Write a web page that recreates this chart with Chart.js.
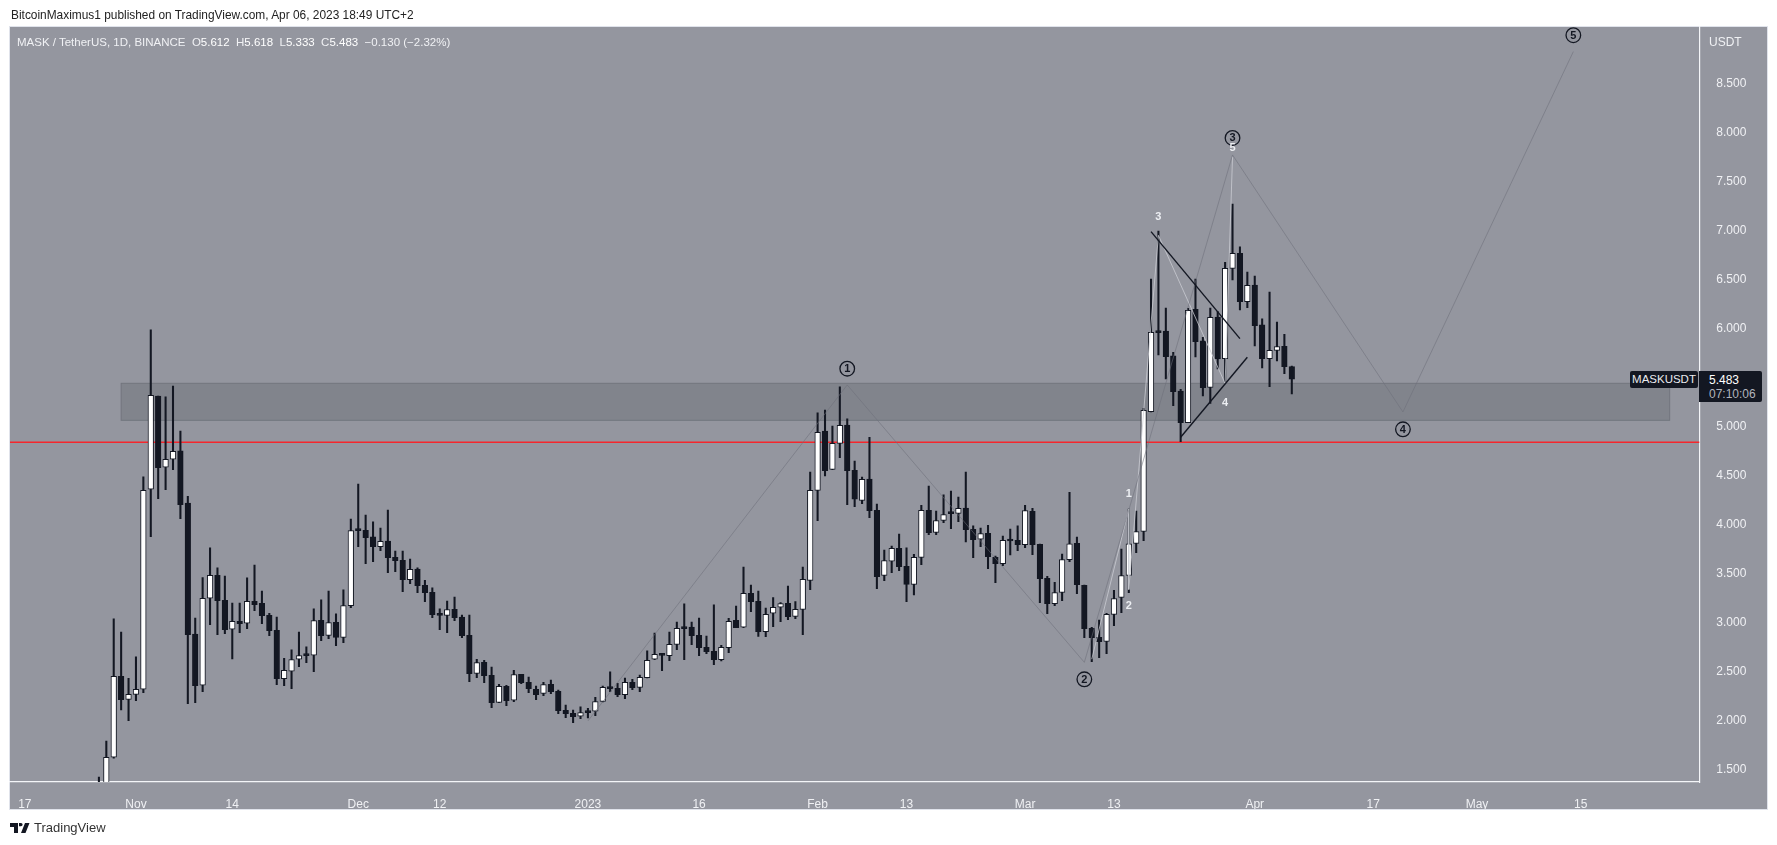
<!DOCTYPE html>
<html>
<head>
<meta charset="utf-8">
<title>MASKUSDT</title>
<script src="https://cdn.jsdelivr.net/npm/chart.js@4"></script>
<style>
  html, body { margin: 0; padding: 0; background: #fff; width: 1777px; height: 845px; overflow: hidden; }
  body { font-family: "Liberation Sans", sans-serif; font-size: 12px; position: relative; }
  div, svg { position: absolute; white-space: nowrap; }
  #panel { left: 9px; top: 26px; width: 1757px; height: 782px; background: #94969f; border: 1px solid #e0e3eb; }
  canvas { position: absolute; left: 0; top: 0; }
  #published { left: 11px; top: 8px; color: #222; font-size: 11.9px; }
  #legend { left: 17px; top: 36px; color: #f0f1f4; font-size: 11.5px; }
  #legend b { font-weight: normal; color: #fff; }
  #currency { left: 1709px; top: 35px; color: #f0f1f4; }
  #symbolTag { left: 1630px; top: 371px; width: 68px; height: 17px; line-height: 17px; background: #131722; color: #e9eaee; text-align: center; border-radius: 2px; font-size: 11.5px; }
  #priceTag { left: 1699px; top: 371px; width: 63px; height: 31px; background: #131722; border-radius: 0 2px 2px 0; }
  #priceTag span { position: absolute; left: 10px; }
  #lastPrice { top: 2px; color: #fff; }
  #countdown { top: 16px; color: #b2b5be; }
  #brand { left: 34px; top: 820px; color: #333; font-size: 13px; }
  #logo { left: 10px; top: 823px; }
</style>
</head>
<body>
<div id="panel"></div>
<canvas id="myChart" width="1777" height="845"></canvas>
<div id="published">BitcoinMaximus1 published on TradingView.com, Apr 06, 2023 18:49 UTC+2</div>
<div id="legend">MASK / TetherUS, 1D, BINANCE&nbsp; O<b>5.612</b>&nbsp; H<b>5.618</b>&nbsp; L<b>5.333</b>&nbsp; C<b>5.483</b>&nbsp; −0.130 (−2.32%)</div>
<div id="currency">USDT</div>
<div id="symbolTag">MASKUSDT</div>
<div id="priceTag"><span id="lastPrice">5.483</span><span id="countdown">07:10:06</span></div>
<svg id="logo" width="20" height="10" viewBox="0 0 20 10"><path d="M0 0h8v10H4V4H0zM9 0h2a1.6 1.6 0 1 1 0 3.2H9zM15 0h4.5l-4 10H11z" fill="#131722"/></svg>
<div id="brand">TradingView</div>

<script>
// daily candles start on this date, one entry per day
const firstCandle = '2022-10-27';

const opens = [
  1.300,1.360,1.630,2.456,2.221,2.272,2.323,4.362,5.313,4.586,
  4.668,4.753,4.222,2.887,2.364,3.251,3.485,3.230,2.935,3.016,
  2.996,3.220,3.200,3.077,2.924,2.432,2.507,2.629,2.673,2.670,
  3.026,2.873,3.006,2.853,3.176,3.954,3.944,3.876,3.777,3.835,
  3.668,3.638,3.441,3.549,3.383,3.312,3.087,3.077,3.138,3.060,
  2.873,2.486,2.598,2.465,2.190,2.353,2.211,2.476,2.394,2.323,
  2.282,2.374,2.303,2.109,2.078,2.048,2.099,2.099,2.200,2.343,
  2.333,2.268,2.394,2.343,2.442,2.629,2.679,2.666,2.781,2.948,
  2.958,2.873,2.751,2.710,2.625,2.747,3.026,2.955,3.301,3.220,
  2.911,3.098,3.159,3.199,3.067,3.138,3.434,4.351,4.956,4.565,
  4.830,5.017,4.555,4.249,4.467,4.148,3.485,3.628,3.760,3.577,
  3.393,3.668,4.147,3.923,4.045,4.130,4.117,4.171,3.954,3.852,
  3.913,3.668,3.604,3.845,3.841,3.797,4.137,3.801,3.454,3.196,
  3.311,3.644,3.811,3.383,2.944,2.853,2.812,3.087,3.260,3.485,
  3.811,3.933,5.153,5.975,5.975,5.721,5.364,5.041,6.196,5.874,
  5.401,6.118,5.693,6.614,6.767,6.275,6.444,6.037,5.693,5.778,
  5.819,5.612
];
const highs = [
  1.429,1.796,3.040,2.907,2.435,2.653,4.488,5.986,5.313,5.303,
  5.415,4.956,4.290,3.050,3.461,3.764,3.560,3.478,3.203,3.203,
  3.458,3.590,3.325,3.098,3.060,2.639,2.724,2.907,2.755,3.142,
  3.234,3.325,3.091,3.336,4.059,4.416,4.100,4.029,3.967,4.151,
  3.733,3.733,3.651,3.560,3.434,3.356,3.142,3.223,3.264,3.080,
  3.080,2.628,2.618,2.550,2.374,2.364,2.517,2.476,2.448,2.357,
  2.394,2.418,2.316,2.163,2.112,2.143,2.129,2.241,2.357,2.500,
  2.384,2.438,2.425,2.469,2.714,2.897,2.690,2.907,3.009,3.193,
  3.009,3.050,2.866,3.183,2.771,3.046,3.172,3.570,3.386,3.325,
  3.152,3.257,3.206,3.376,3.216,3.570,4.538,5.140,5.170,5.007,
  5.405,5.079,4.650,4.487,4.892,4.212,3.743,3.784,3.906,3.764,
  3.699,4.198,4.395,4.140,4.304,4.344,4.283,4.538,3.988,3.967,
  3.994,3.682,3.886,3.957,3.988,4.198,4.168,3.804,3.474,3.413,
  3.702,4.331,3.875,3.386,2.955,3.029,3.097,3.332,3.753,4.161,
  4.140,5.187,6.505,6.995,6.210,5.758,5.381,6.207,6.505,5.911,
  6.210,6.173,6.675,7.270,6.832,6.577,6.536,6.098,6.373,6.067,
  5.942,5.618
];
const lows = [
  1.250,1.300,1.620,2.112,2.004,2.208,2.289,3.879,4.267,4.358,
  4.562,4.063,2.177,2.187,2.299,2.982,2.880,2.891,2.632,2.901,
  2.941,3.125,2.992,2.870,2.371,2.360,2.330,2.554,2.595,2.503,
  2.819,2.840,2.768,2.799,3.156,3.777,3.604,3.625,3.736,3.512,
  3.522,3.318,3.400,3.308,3.216,3.054,2.931,2.900,3.023,2.849,
  2.401,2.442,2.391,2.136,2.187,2.156,2.197,2.381,2.289,2.217,
  2.258,2.279,2.075,2.034,1.983,2.024,2.031,2.055,2.195,2.299,
  2.248,2.228,2.320,2.299,2.440,2.625,2.513,2.615,2.727,2.625,
  2.778,2.666,2.686,2.574,2.612,2.696,2.950,2.950,3.115,2.863,
  2.860,2.962,3.013,3.033,3.043,2.880,3.339,4.042,4.497,4.562,
  4.684,4.205,4.185,4.215,4.073,3.349,3.431,3.512,3.532,3.216,
  3.284,3.593,3.899,3.899,4.022,3.960,4.032,3.824,3.665,3.777,
  3.553,3.410,3.583,3.692,3.736,3.767,3.695,3.206,3.094,3.175,
  3.226,3.624,3.298,2.849,2.605,2.645,2.686,2.972,3.104,3.308,
  3.716,3.838,5.150,5.731,5.486,5.214,4.847,5.040,5.711,5.313,
  5.238,5.588,5.459,6.495,6.190,6.213,5.823,5.598,5.408,5.670,
  5.541,5.333
];
const closes = [
  1.360,1.630,2.456,2.218,2.272,2.323,4.352,5.320,4.583,4.668,
  4.749,4.206,2.880,2.360,3.251,3.485,3.227,2.931,3.016,2.992,
  3.220,3.186,3.074,2.921,2.432,2.517,2.625,2.666,2.666,3.023,
  2.870,3.003,2.853,3.176,3.940,3.940,3.869,3.777,3.831,3.665,
  3.634,3.441,3.546,3.380,3.308,3.084,3.077,3.135,3.054,2.870,
  2.482,2.595,2.462,2.187,2.353,2.207,2.472,2.391,2.330,2.268,
  2.370,2.299,2.105,2.075,2.044,2.085,2.085,2.197,2.343,2.330,
  2.268,2.394,2.340,2.445,2.618,2.679,2.669,2.781,2.944,2.941,
  2.870,2.747,2.707,2.625,2.751,3.016,2.951,3.301,3.216,2.911,
  3.087,3.159,3.196,3.064,3.138,3.444,4.351,4.943,4.552,4.830,
  5.014,4.552,4.260,4.464,4.144,3.471,3.634,3.760,3.573,3.393,
  3.668,4.147,3.920,4.042,4.103,4.113,4.168,3.950,3.848,3.909,
  3.675,3.604,3.841,3.835,3.797,4.144,3.797,3.451,3.196,3.308,
  3.644,3.807,3.390,2.941,2.849,2.808,3.087,3.247,3.481,3.807,
  3.930,5.167,5.962,5.958,5.714,5.357,5.041,6.186,5.867,5.398,
  6.115,5.690,6.614,6.767,6.275,6.441,6.030,5.693,5.778,5.816,
  5.612,5.483
];

// axes
const tickDates = ['2022-10-17','2022-11-01','2022-11-14','2022-12-01','2022-12-12','2023-01-01','2023-01-16',
  '2023-02-01','2023-02-13','2023-03-01','2023-03-13','2023-04-01','2023-04-17','2023-05-01','2023-05-15'];
const tickLabels = ['17','Nov','14','Dec','12','2023','16','Feb','13','Mar','13','Apr','17','May','15'];
const priceTicks = [1.5,2,2.5,3,3.5,4,4.5,5,6,6.5,7,7.5,8,8.5];

// drawings on the chart
const supportLevel = 4.841;
const zoneDates = ['2022-10-30','2023-05-27'];
const zonePrices = [5.442,5.065];
const waveDates = ['2023-01-01','2023-02-05','2023-03-09','2023-03-29','2023-04-21','2023-05-14'];
const waveValues = [2.0,5.425,2.598,7.77,5.15,8.823];
const subWaveDates = ['2023-03-10','2023-03-15','2023-03-15','2023-03-19','2023-03-28','2023-03-29'];
const subWaveValues = [2.63,4.16,3.34,6.95,5.44,7.75];
const upperDates = ['2023-03-18','2023-03-30'];
const upperValues = [6.988,5.897];
const lowerDates = ['2023-03-22','2023-03-31'];
const lowerValues = [4.892,5.707];
const circleLabels = ['1','2','3','4','5'];
const circleDates = ['2023-02-05','2023-03-09','2023-03-29','2023-04-21','2023-05-14'];
const circleValues = [5.591,2.425,7.943,4.973,8.99];
const subLabels = ['1','2','3','4','5'];
const subDates = ['2023-03-15','2023-03-15','2023-03-19','2023-03-28','2023-03-29'];
const subValues = [4.311,3.169,7.138,5.238,7.838];

function getDates(start, end) {
  let dates = [];
  let day = Date.parse(start + 'T00:00:00Z');
  let last = Date.parse(end + 'T00:00:00Z');
  while (day <= last) {
    dates.push(new Date(day).toISOString().slice(0, 10));
    day += 86400000;
  }
  return dates;
}

const categories = getDates('2022-10-15', '2023-05-31');
const first = categories.indexOf(firstCandle);
const candleDates = categories.slice(first, first + opens.length);

function points(dates, values) {
  return dates.map((d, i) => ({ x: d, y: values[i] }));
}

function lineSet(dates, values, color, width, order) {
  return {
    type: 'line',
    data: points(dates, values),
    borderColor: color,
    borderWidth: width,
    pointRadius: 0,
    tension: 0,
    order: order
  };
}

const ink = '#131722';

// zone behind the candles
const zonePlugin = {
  id: 'zone',
  beforeDatasetsDraw(chart) {
    const { ctx, scales: { x, y } } = chart;
    const left = x.getPixelForValue(categories.indexOf(zoneDates[0]));
    const right = x.getPixelForValue(categories.indexOf(zoneDates[1]));
    const top = y.getPixelForValue(zonePrices[0]);
    const bottom = y.getPixelForValue(zonePrices[1]);
    ctx.save();
    ctx.fillStyle = '#81848c';
    ctx.strokeStyle = '#72757e';
    ctx.lineWidth = 1;
    ctx.fillRect(left, top, right - left, bottom - top);
    ctx.strokeRect(left, top, right - left, bottom - top);
    ctx.restore();
  }
};

// wave numbers
const labelPlugin = {
  id: 'waveLabels',
  afterDatasetsDraw(chart) {
    const { ctx, scales: { x, y } } = chart;
    ctx.save();
    ctx.textAlign = 'center';
    ctx.textBaseline = 'middle';
    ctx.font = 'bold 11px "Liberation Sans"';
    ctx.fillStyle = ink;
    ctx.strokeStyle = ink;
    ctx.lineWidth = 1.3;
    circleLabels.forEach((label, i) => {
      const px = x.getPixelForValue(categories.indexOf(circleDates[i]));
      const py = y.getPixelForValue(circleValues[i]);
      ctx.beginPath();
      ctx.arc(px, py, 7.3, 0, Math.PI * 2);
      ctx.stroke();
      ctx.fillText(label, px, py + 0.5);
    });
    ctx.fillStyle = '#eceef2';
    subLabels.forEach((label, i) => {
      const px = x.getPixelForValue(categories.indexOf(subDates[i]));
      const py = y.getPixelForValue(subValues[i]);
      ctx.fillText(label, px, py);
    });
    ctx.restore();
  }
};

const ctx = document.getElementById('myChart').getContext('2d');
const myChart = new Chart(ctx, {
  type: 'bar',
  data: {
    labels: categories,
    datasets: [
      lineSet([categories[0], categories[categories.length - 1]], [supportLevel, supportLevel], '#f5262c', 1.5, 5),
      {
        label: 'wicks',
        data: candleDates.map((d, i) => ({ x: d, y: [lows[i], highs[i]] })),
        backgroundColor: ink,
        barThickness: 1.4,
        grouped: false,
        order: 4
      },
      {
        label: 'bodies',
        data: candleDates.map((d, i) => ({ x: d, y: [opens[i], closes[i]] })),
        backgroundColor: opens.map((o, i) => closes[i] > o ? '#ffffff' : ink),
        borderColor: ink,
        borderWidth: 1,
        borderSkipped: false,
        barThickness: 5.6,
        minBarLength: 2,
        grouped: false,
        order: 3
      },
      lineSet(waveDates, waveValues, 'rgba(110,112,122,0.55)', 1, 2),
      lineSet(subWaveDates, subWaveValues, 'rgba(205,207,213,0.75)', 1, 2),
      lineSet(upperDates, upperValues, ink, 1.4, 1),
      lineSet(lowerDates, lowerValues, ink, 1.4, 1)
    ]
  },
  plugins: [zonePlugin, labelPlugin],
  options: {
    responsive: false,
    animation: false,
    layout: { padding: { left: 10, top: 27, right: 10, bottom: 36 } },
    plugins: { legend: { display: false }, tooltip: { enabled: false } },
    scales: {
      x: {
        type: 'category',
        offset: false,
        grid: { display: false },
        border: { color: '#f4f5f8', width: 1.2 },
        afterBuildTicks: (scale) => {
          scale.ticks = tickDates.map(d => ({ value: categories.indexOf(d) }));
        },
        afterFit: (scale) => { scale.height = 27; },
        ticks: {
          autoSkip: false,
          maxRotation: 0,
          padding: 7,
          color: '#f0f1f4',
          font: { family: 'Liberation Sans', size: 12 },
          callback: (value, i) => tickLabels[i]
        }
      },
      y: {
        position: 'right',
        min: 1.378,
        max: 9.074,
        grid: { display: false },
        border: { color: '#f4f5f8', width: 1.2 },
        afterBuildTicks: (scale) => {
          scale.ticks = priceTicks.map(v => ({ value: v }));
        },
        afterFit: (scale) => { scale.width = 67.7; },
        ticks: {
          padding: 9,
          crossAlign: 'near',
          color: '#f0f1f4',
          font: { family: 'Liberation Sans', size: 12 },
          callback: (value) => value.toFixed(3)
        }
      }
    }
  }
});
</script>
</body>
</html>
